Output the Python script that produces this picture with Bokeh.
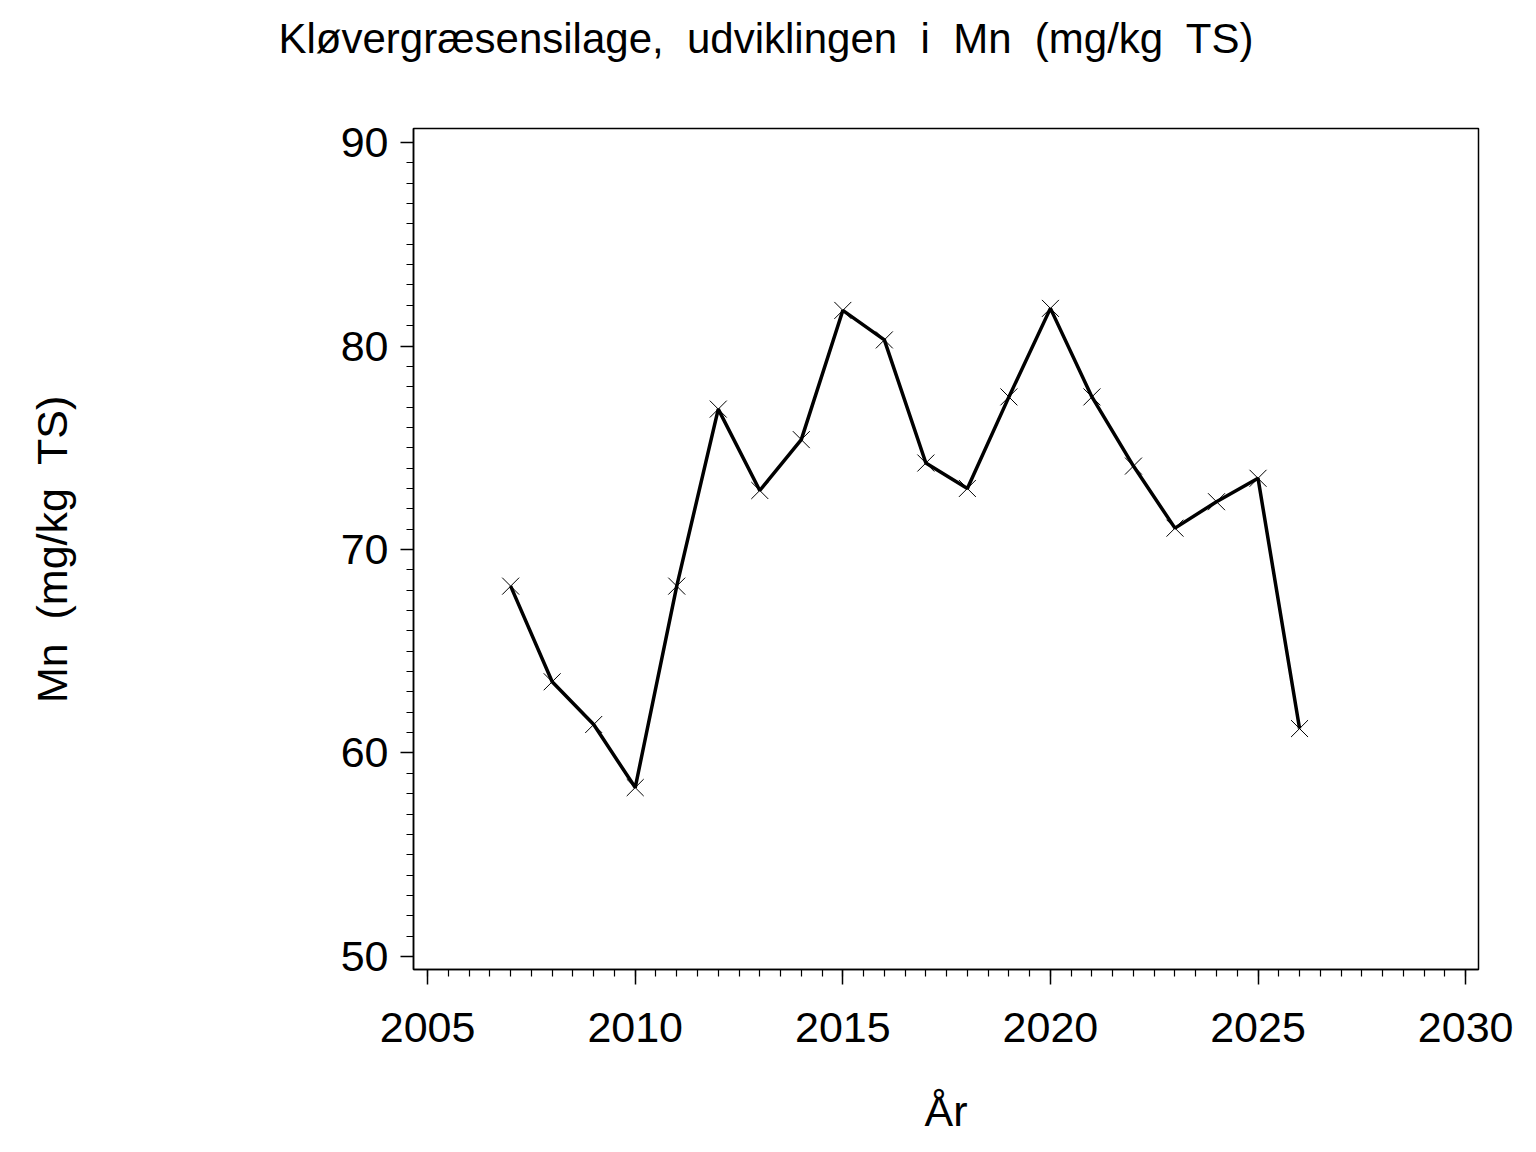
from bokeh.plotting import figure
from bokeh.models import Range1d, SingleIntervalTicker, ColumnDataSource, Title
from bokeh.embed import file_html
from bokeh.resources import INLINE

years = [2007, 2008, 2009, 2010, 2011, 2012, 2013, 2014, 2015, 2016,
         2017, 2018, 2019, 2020, 2021, 2022, 2023, 2024, 2025, 2026]
mn = [68.2, 63.5, 61.4, 58.3, 68.2, 76.9, 72.9, 75.4, 81.75, 80.3,
      74.25, 73.0, 77.5, 81.85, 77.5, 74.1, 71.05, 72.35, 73.5, 61.2]

NB = "\u00a0"
title_text = f"Kløvergræsensilage,{NB} udviklingen{NB} i{NB} Mn{NB} (mg/kg{NB} TS)"
x_label = "År"
y_label = f"Mn{NB} (mg/kg{NB} TS)"

FONT = "Liberation Sans"

src = ColumnDataSource(data=dict(x=years, y=mn))

p = figure(frame_width=1065, frame_height=841,
           min_border_left=413, min_border_top=128, min_border_right=40,
           min_border_bottom=150,
           x_range=Range1d(2004.66, 2030.31), y_range=Range1d(49.36, 90.69),
           output_backend="svg", toolbar_location=None)

p.title.text = title_text
p.title.text_font = FONT
p.title.text_font_size = "42px"
p.title.text_font_style = "normal"
p.title.text_color = "black"
p.title.align = "left"
p.title.offset = -135

# spacer between title and frame
spacer = Title(text=NB, text_font_size="54px", standoff=0)
p.add_layout(spacer, "above")

p.line("x", "y", source=src, line_width=3.5, line_color="black")
p.scatter("x", "y", source=src, marker="x", size=24, line_color="black", line_width=1)

p.xgrid.visible = False
p.ygrid.visible = False
p.outline_line_color = "black"
p.outline_line_width = 1.5
p.background_fill_color = "white"
p.border_fill_color = "white"

p.xaxis.ticker = SingleIntervalTicker(interval=5, num_minor_ticks=10)
p.yaxis.ticker = SingleIntervalTicker(interval=10, num_minor_ticks=10)

for ax in (p.xaxis, p.yaxis):
    ax.axis_line_color = "black"
    ax.axis_line_width = 1.5
    ax.major_tick_line_color = "black"
    ax.minor_tick_line_color = "black"
    ax.major_tick_line_width = 1.5
    ax.minor_tick_line_width = 1.2
    ax.major_tick_in = 0
    ax.minor_tick_in = 0
    ax.major_label_text_font = FONT
    ax.major_label_text_font_size = "43px"
    ax.major_label_text_color = "black"
    ax.axis_label_text_font = FONT
    ax.axis_label_text_font_size = "43px"
    ax.axis_label_text_font_style = "normal"
    ax.axis_label_text_color = "black"

p.xaxis.major_tick_out = 15
p.xaxis.minor_tick_out = 7
p.yaxis.major_tick_out = 13
p.yaxis.minor_tick_out = 7
p.xaxis.major_label_standoff = 28
p.yaxis.major_label_standoff = 12
p.xaxis.axis_label = x_label
p.yaxis.axis_label = y_label
p.xaxis.axis_label_standoff = 42
p.yaxis.axis_label_standoff = 262

open("out.html", "w").write(file_html(p, INLINE))
